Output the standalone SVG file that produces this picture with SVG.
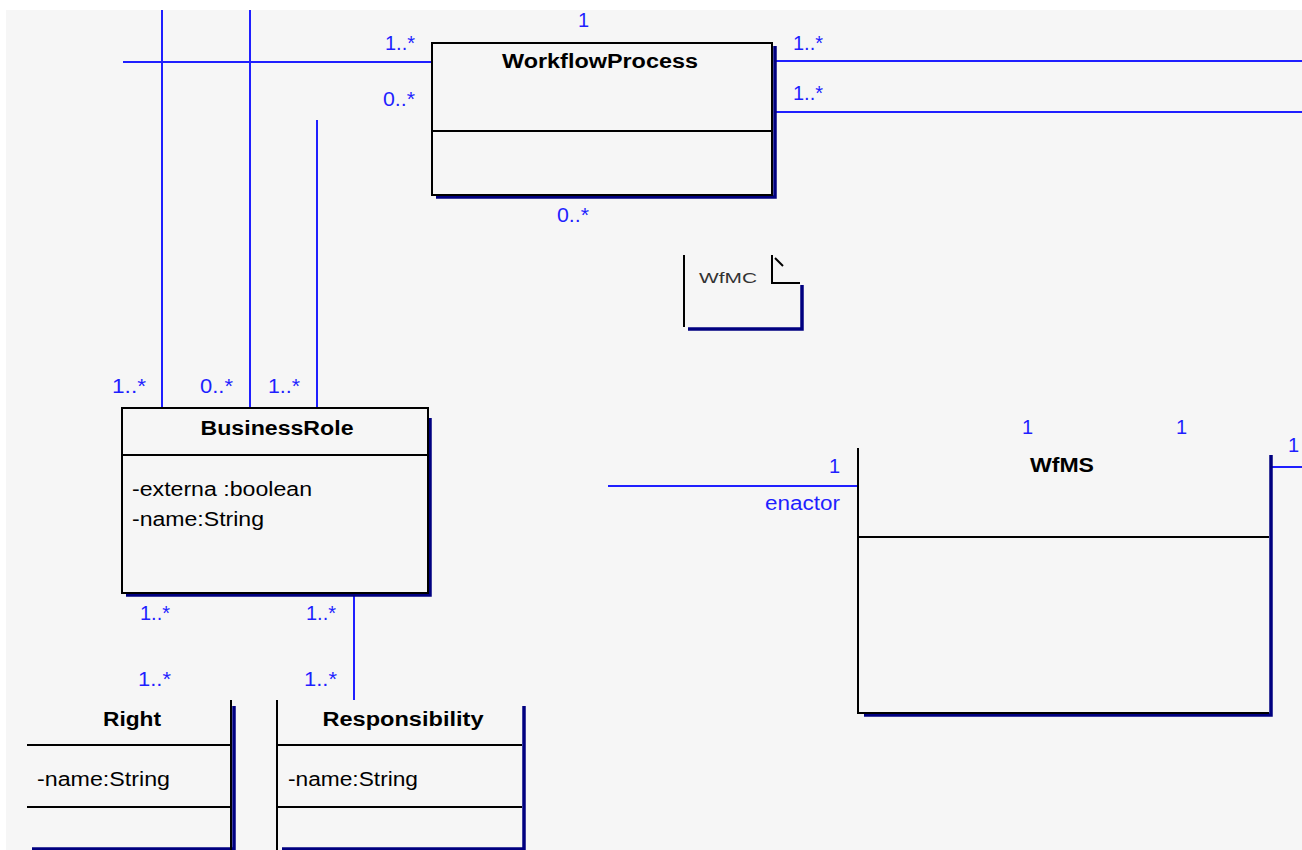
<svg xmlns="http://www.w3.org/2000/svg" width="1302" height="850" viewBox="0 0 1302 850">
<style>
.bg{fill:#f6f6f6}
.box{fill:none;stroke:#000;stroke-width:2}
.sh{fill:none;stroke:#000080;stroke-width:3.5}
.con{fill:none;stroke:#1f1fff;stroke-width:2}
.t{font-family:"Liberation Sans",Arial,sans-serif;font-size:20px;fill:#000}
.tb{font-family:"Liberation Sans",Arial,sans-serif;font-size:20px;font-weight:bold;fill:#000;text-anchor:middle}
.lb{font-family:"Liberation Sans",Arial,sans-serif;font-size:20px;fill:#1f1fff}
.nt{font-family:"Liberation Sans",Arial,sans-serif;font-size:14px;fill:#333}
</style>
<rect width="1302" height="850" fill="#ffffff"/>
<rect class="bg" x="6" y="10" width="1296" height="840"/>
<g id="connectors">
<line class="con" x1="123" y1="62" x2="432" y2="62"/>
<line class="con" x1="162" y1="10" x2="162" y2="408"/>
<line class="con" x1="250" y1="10" x2="250" y2="408"/>
<line class="con" x1="317" y1="120" x2="317" y2="408"/>
<line class="con" x1="774" y1="61" x2="1302" y2="61"/>
<line class="con" x1="774" y1="112" x2="1302" y2="112"/>
<line class="con" x1="354" y1="595" x2="354" y2="700"/>
<line class="con" x1="608" y1="486" x2="858" y2="486"/>
<line class="con" x1="1272" y1="467" x2="1302" y2="467"/>
<text class="lb" x="578" y="27">1</text>
<text class="lb" x="385" y="50" textLength="30" lengthAdjust="spacingAndGlyphs">1..*</text>
<text class="lb" x="383" y="106" textLength="32" lengthAdjust="spacingAndGlyphs">0..*</text>
<text class="lb" x="557" y="222" textLength="32" lengthAdjust="spacingAndGlyphs">0..*</text>
<text class="lb" x="793" y="50" textLength="30" lengthAdjust="spacingAndGlyphs">1..*</text>
<text class="lb" x="793" y="100" textLength="30" lengthAdjust="spacingAndGlyphs">1..*</text>
<text class="lb" x="112" y="393" textLength="34" lengthAdjust="spacingAndGlyphs">1..*</text>
<text class="lb" x="200" y="393" textLength="33" lengthAdjust="spacingAndGlyphs">0..*</text>
<text class="lb" x="268" y="393" textLength="32" lengthAdjust="spacingAndGlyphs">1..*</text>
<text class="lb" x="140" y="620" textLength="30" lengthAdjust="spacingAndGlyphs">1..*</text>
<text class="lb" x="306" y="620" textLength="30" lengthAdjust="spacingAndGlyphs">1..*</text>
<text class="lb" x="138" y="686" textLength="33" lengthAdjust="spacingAndGlyphs">1..*</text>
<text class="lb" x="304" y="686" textLength="33" lengthAdjust="spacingAndGlyphs">1..*</text>
<text class="lb" x="1022" y="434">1</text>
<text class="lb" x="1176" y="434">1</text>
<text class="lb" x="1288" y="452">1</text>
<text class="lb" x="829" y="473">1</text>
<text class="lb" x="765" y="510" textLength="75" lengthAdjust="spacingAndGlyphs">enactor</text>
</g>
<g id="WorkflowProcess">
<polyline class="sh" points="775,46 775,197 436,197"/>
<rect class="box" x="432" y="43" width="340" height="152"/>
<line class="box" x1="432" y1="131" x2="772" y2="131"/>
<text class="tb" x="600" y="68" textLength="196" lengthAdjust="spacingAndGlyphs">WorkflowProcess</text>
</g>
<g id="BusinessRole">
<polyline class="sh" points="430,418 430,595 126,595"/>
<rect class="box" x="122" y="408" width="306" height="185"/>
<line class="box" x1="122" y1="455" x2="428" y2="455"/>
<text class="tb" x="277" y="435" textLength="153" lengthAdjust="spacingAndGlyphs">BusinessRole</text>
<text class="t" x="132" y="496" textLength="180" lengthAdjust="spacingAndGlyphs">-externa :boolean</text>
<text class="t" x="132" y="526" textLength="132" lengthAdjust="spacingAndGlyphs">-name:String</text>
</g>
<g id="Right">
<line class="sh" x1="234" y1="706" x2="234" y2="850"/>
<line class="sh" x1="32" y1="849" x2="234" y2="849"/>
<line class="box" x1="231" y1="700" x2="231" y2="850"/>
<line class="box" x1="27" y1="745" x2="231" y2="745"/>
<line class="box" x1="27" y1="807" x2="231" y2="807"/>
<text class="tb" x="132" y="726" textLength="58" lengthAdjust="spacingAndGlyphs">Right</text>
<text class="t" x="37" y="786" textLength="133" lengthAdjust="spacingAndGlyphs">-name:String</text>
</g>
<g id="Responsibility">
<line class="sh" x1="524" y1="706" x2="524" y2="850"/>
<line class="sh" x1="282" y1="849" x2="524" y2="849"/>
<line class="box" x1="277" y1="700" x2="277" y2="850"/>
<line class="box" x1="277" y1="745" x2="522" y2="745"/>
<line class="box" x1="277" y1="807" x2="522" y2="807"/>
<text class="tb" x="403" y="726" textLength="161" lengthAdjust="spacingAndGlyphs">Responsibility</text>
<text class="t" x="288" y="786" textLength="130" lengthAdjust="spacingAndGlyphs">-name:String</text>
</g>
<g id="WfMS">
<polyline class="sh" points="1271,455 1271,715 864,715"/>
<polyline class="box" points="858,448 858,713 1269,713"/>
<line class="box" x1="858" y1="537" x2="1269" y2="537"/>
<text class="tb" x="1062" y="472" textLength="64" lengthAdjust="spacingAndGlyphs">WfMS</text>
</g>
<g id="WfMC-note">
<polyline class="sh" points="802,285 802,329 688,329"/>
<line class="box" x1="684" y1="255" x2="684" y2="327"/>
<polyline class="box" points="772,255 772,283 800,283"/>
<line class="box" x1="775" y1="258" x2="783" y2="266" stroke-width="1.5"/>
<text class="nt" x="699" y="283" textLength="58" lengthAdjust="spacingAndGlyphs">WfMC</text>
</g>
</svg>
